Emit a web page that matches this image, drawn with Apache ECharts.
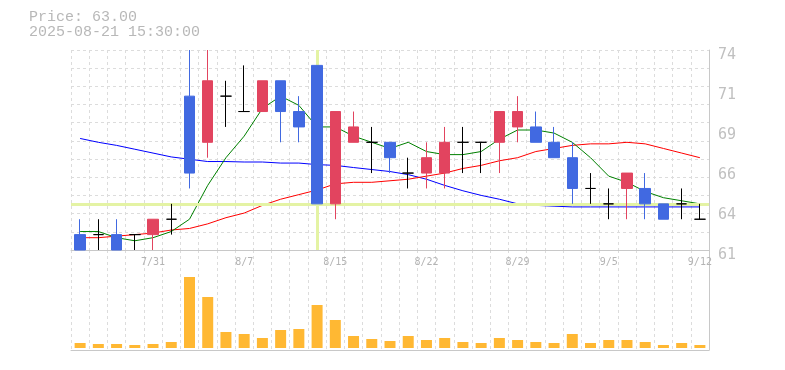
<!DOCTYPE html>
<html><head><meta charset="utf-8">
<script src="https://cdn.jsdelivr.net/npm/echarts@6/dist/echarts.min.js"></script>
<style>html,body{margin:0;padding:0;background:#fff}#c{width:785px;height:370px}</style>
</head><body><div id="c"></div>
<script>
const dates = ['7/25','7/28','7/29','7/30','7/31','8/1','8/4','8/5','8/6','8/7','8/8','8/12','8/13','8/14','8/15','8/18','8/19','8/20','8/21','8/22','8/25','8/26','8/27','8/28','8/29','9/1','9/2','9/3','9/4','9/5','9/8','9/9','9/10','9/11','9/12'];
const xTickLabels = ['7/31','8/7','8/15','8/22','8/29','9/5','9/12'];
const yTickLabels = ['61','64','66','69','71','74'];
const opens  = [62,62,62,62,62,63,71,68,71,70,70,72,70,73,64,68,68,68,66,66,66,68,68,68,69,69,68,67,65,64,65,65,64,64,63];
const closes = [61,62,61,62,63,63,66,72,71,70,72,70,69,64,70,69,68,67,66,67,68,68,68,70,70,68,67,65,65,64,66,64,63,64,63];
const lows   = [61,61,61,61,61,62,65,67,69,70,70,68,68,64,63,68,66,66,65,65,65,66,66,66,68,68,67,64,64,63,63,63,63,63,63];
const highs  = [63,63,63,62,63,64,74,74,72,73,72,72,71,73,70,70,69,68,67,68,69,69,68,70,71,70,69,68,66,65,66,66,64,65,64];
const maShort = [62.2,62.2,61.8,61.6,61.8,62.2,63.0,65.2,67.0,68.4,70.2,71.0,70.4,69.0,69.0,68.4,68.0,67.6,68.0,67.4,67.2,67.2,67.4,68.2,68.8,68.8,68.6,68.0,67.0,65.8,65.4,64.8,64.4,64.2,64.0];
const maMid = [61.8,61.8,61.9,62.0,62.1,62.3,62.4,62.7,63.1,63.4,63.9,64.3,64.6,64.9,65.3,65.4,65.4,65.5,65.6,65.8,66.0,66.3,66.5,66.8,67.0,67.4,67.6,67.8,67.9,67.9,68.0,67.9,67.6,67.3,67.0];
const maLong = [68.25,68.0,67.8,67.55,67.3,67.05,66.9,66.75,66.75,66.72,66.72,66.65,66.65,66.55,66.5,66.36,66.23,66.1,65.9,65.6,65.2,64.85,64.55,64.3,64.0,63.9,63.85,63.8,63.8,63.8,63.8,63.8,63.8,63.8,63.8];
const volumes = [5,4,4,3,4,6,71,51,16,14,10,18,19,43,28,12,9,7,12,8,10,6,5,10,8,6,5,14,5,8,8,6,3,5,3];
const crossDate = '8/14';
const crossPrice = 64;
const headerText = 'Price: 63.00\n2025-08-21 15:30:00';

const candleData = dates.map((d, i) => {
  const item = { value: [opens[i], closes[i], lows[i], highs[i]] };
  if (opens[i] === closes[i]) {
    item.itemStyle = { borderColor: '#000', borderColor0: '#000', borderColorDoji: '#000' };
  }
  return item;
});

const gridLine = { color: '#dcdcdc', type: [3, 3], width: 1 };
const axisGray = '#c8c8c8';

const chart = echarts.init(document.getElementById('c'), null, { renderer: 'canvas' });
chart.setOption({
  animation: false,
  backgroundColor: '#fff',
  title: {
    text: headerText, left: 29, top: 10, padding: 0,
    textStyle: { fontFamily: 'Liberation Mono', fontSize: 15, lineHeight: 15, color: '#b8b8b8', fontWeight: 'normal' }
  },
  grid: [
    { left: 71, right: 76, top: 50, height: 200 },
    { left: 71, right: 76, top: 250, height: 100 }
  ],
  xAxis: [
    { gridIndex: 0, type: 'category', data: dates, boundaryGap: true,
      axisLine: { show: true, onZero: false, lineStyle: { color: axisGray } },
      axisTick: { show: false },
      axisLabel: { interval: (i, v) => xTickLabels.includes(v), fontFamily: 'DejaVu Sans Mono', fontSize: 10, color: '#b4b4b4', margin: 7 },
      splitLine: { show: true, interval: 0, lineStyle: gridLine } },
    { gridIndex: 1, type: 'category', data: dates, boundaryGap: true,
      axisLine: { show: true, onZero: false, lineStyle: { color: axisGray } },
      axisTick: { show: false }, axisLabel: { show: false },
      splitLine: { show: true, interval: 0, lineStyle: gridLine } }
  ],
  yAxis: [
    { gridIndex: 0, type: 'value', min: 61, max: 74, show: false },
    { gridIndex: 0, type: 'value', position: 'right', min: 0, max: 5, interval: 1,
      axisLine: { show: true, lineStyle: { color: axisGray } }, axisTick: { show: false }, splitLine: { show: false },
      axisLabel: { formatter: v => yTickLabels[v], fontFamily: 'DejaVu Sans Mono', fontSize: 15, color: '#c0c0c0', margin: 9,
        verticalAlign: 'top', lineHeight: 10 } },
    { gridIndex: 0, type: 'value', position: 'left', min: 0, max: 11, interval: 1,
      axisLine: { show: false }, axisTick: { show: false }, axisLabel: { show: false },
      splitLine: { show: true, lineStyle: gridLine } },
    { gridIndex: 1, type: 'value', position: 'right', min: -2, max: 98,
      axisLine: { show: true, lineStyle: { color: axisGray } }, axisTick: { show: false },
      axisLabel: { show: false }, splitLine: { show: false } }
  ],
  series: [
    { type: 'line', name: 'long', xAxisIndex: 0, yAxisIndex: 0, data: maLong, symbol: 'none', z: 2,
      lineStyle: { color: '#0000ff', width: 1 },
      markLine: { silent: true, symbol: 'none', label: { show: false }, animation: false,
        lineStyle: { color: '#e4f3a4', width: 3, type: 'solid' },
        data: [{ yAxis: crossPrice }, { xAxis: crossDate }] } },
    { type: 'line', name: 'mid', xAxisIndex: 0, yAxisIndex: 0, data: maMid, symbol: 'none', z: 3,
      lineStyle: { color: '#ff0000', width: 1 } },
    { type: 'line', name: 'short', xAxisIndex: 0, yAxisIndex: 0, data: maShort, symbol: 'none', z: 3,
      lineStyle: { color: '#008000', width: 1 } },
    { type: 'candlestick', xAxisIndex: 0, yAxisIndex: 0, data: candleData, barWidth: 11, z: 5,
      itemStyle: { color: '#e2445f', color0: '#4169e1', borderColor: '#e2445f', borderColor0: '#4169e1', borderColorDoji: '#000', borderWidth: 1 } },
    { type: 'bar', xAxisIndex: 1, yAxisIndex: 3, data: volumes, barWidth: 11,
      itemStyle: { color: '#ffb833' } }
  ]
});
</script></body></html>
